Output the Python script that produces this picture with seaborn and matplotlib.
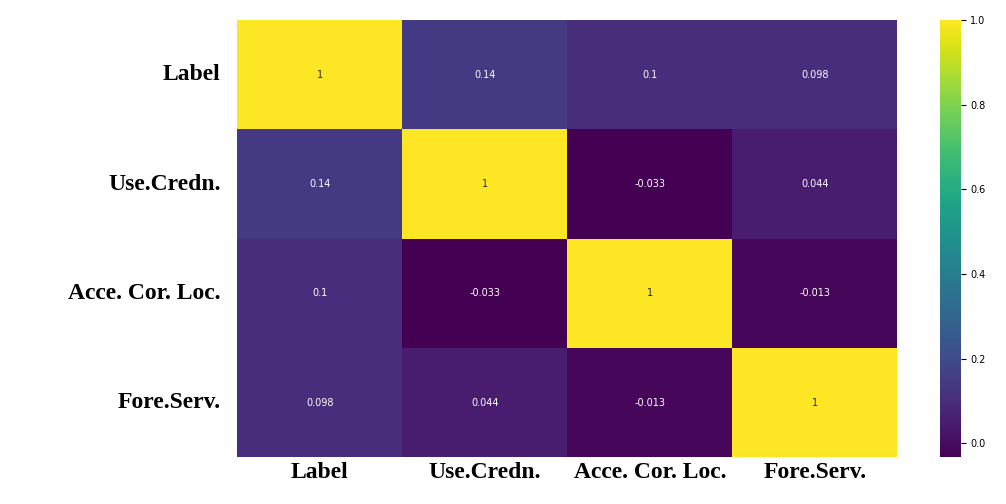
import matplotlib
matplotlib.use("Agg")
import matplotlib.pyplot as plt
import seaborn as sns
import pandas as pd
import numpy as np

labels = ["Label", "Use.Credn.", "Acce. Cor. Loc.", "Fore.Serv."]
row_label = [1, 0.14, 0.1, 0.098]
row_use = [0.14, 1, -0.033, 0.044]
row_acce = [0.1, -0.033, 1, -0.013]
row_fore = [0.098, 0.044, -0.013, 1]

df = pd.DataFrame([row_label, row_use, row_acce, row_fore], index=labels, columns=labels)

fig = plt.figure(figsize=(10.06, 5.04), dpi=100)
ax = fig.add_axes([0.236, 0.093, 0.656, 0.867])
cax = fig.add_axes([0.934, 0.093, 0.021, 0.867])
sns.heatmap(df, annot=True, cmap="viridis", ax=ax, cbar_ax=cax,
            annot_kws={"fontsize": 7})
ax.tick_params(length=0)
ax.set_xticklabels(labels, fontsize=17, fontweight="bold", family="Liberation Serif", rotation=0)
ax.set_yticklabels(labels, fontsize=17, fontweight="bold", family="Liberation Serif", rotation=0)
ax.tick_params(axis="y", pad=12)
cax.tick_params(labelsize=7)
fig.savefig("out.png", dpi=100)
